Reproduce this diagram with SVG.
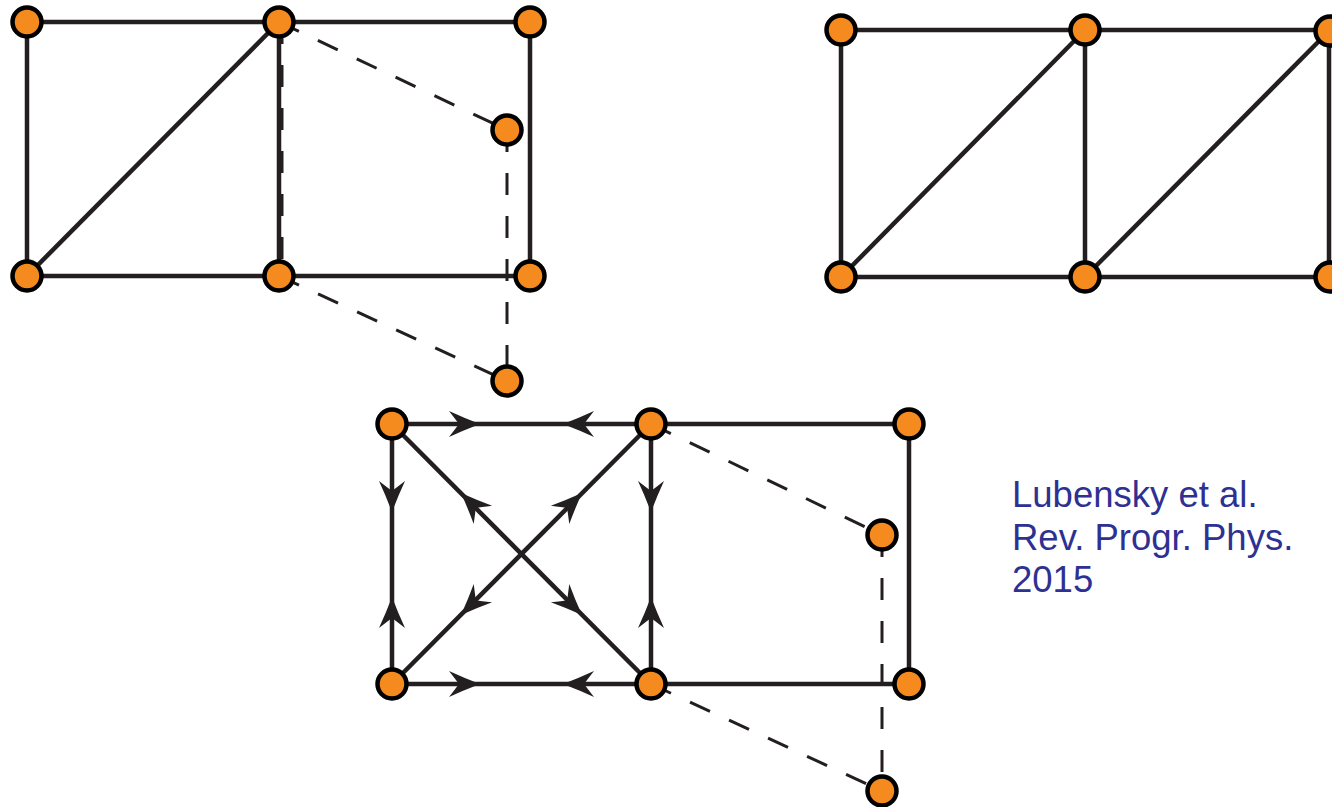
<svg xmlns="http://www.w3.org/2000/svg" xmlns:xlink="http://www.w3.org/1999/xlink" width="1332" height="807" viewBox="0 0 1332 807">
<style>
.e{stroke:#231f20;stroke-width:4.5;fill:none;stroke-linecap:butt}
.d{stroke:#231f20;stroke-width:3;fill:none;stroke-dasharray:22 21}
.n{fill:#f58a1f;stroke:#000;stroke-width:4.5}
.ah{fill:#231f20}
.t{font-family:"Liberation Sans",Arial,sans-serif;font-size:36.5px;fill:#2e3192}
</style>
<defs>
<path id="ah" d="M0,0 Q-17,-6.5 -31,-13 Q-24,-4 -21,0 Q-24,4 -31,13 Q-17,6.5 0,0Z"/>
</defs>
<rect width="1332" height="807" fill="#fff"/>
<g id="connectors">
  <line class="e" x1="27" y1="22" x2="530" y2="22"/>
  <line class="e" x1="27" y1="276" x2="530" y2="276"/>
  <line class="e" x1="27" y1="22" x2="27" y2="276"/>
  <line class="e" x1="279" y1="22" x2="279" y2="276"/>
  <line class="e" x1="530" y1="22" x2="530" y2="276"/>
  <line class="e" x1="27" y1="276" x2="279" y2="22"/>
  <line class="d" x1="282" y1="22" x2="282" y2="276"/>
  <line class="d" x1="279" y1="22" x2="507" y2="130"/>
  <line class="d" x1="279" y1="276" x2="507" y2="381"/>
  <line class="d" x1="507" y1="130" x2="507" y2="381"/>
  <line class="e" x1="841" y1="30" x2="1330" y2="30"/>
  <line class="e" x1="841" y1="277" x2="1330" y2="277"/>
  <line class="e" x1="841" y1="30" x2="841" y2="277"/>
  <line class="e" x1="1085" y1="30" x2="1085" y2="277"/>
  <line class="e" x1="1329" y1="30" x2="1329" y2="277"/>
  <line class="e" x1="841" y1="277" x2="1085" y2="30"/>
  <line class="e" x1="1085" y1="277" x2="1330" y2="30"/>
  <line class="e" x1="392" y1="424" x2="909" y2="424"/>
  <line class="e" x1="392" y1="684" x2="909" y2="684"/>
  <line class="e" x1="392" y1="424" x2="392" y2="684"/>
  <line class="e" x1="651" y1="424" x2="651" y2="684"/>
  <line class="e" x1="909" y1="424" x2="909" y2="684"/>
  <line class="e" x1="392" y1="424" x2="651" y2="684"/>
  <line class="e" x1="651" y1="424" x2="392" y2="684"/>
  <line class="d" x1="651" y1="424" x2="882" y2="535"/>
  <line class="d" x1="651" y1="684" x2="882" y2="791"/>
  <line class="d" x1="882" y1="535" x2="882" y2="791"/>
  <use xlink:href="#ah" class="ah" transform="translate(480,424)"/>
  <use xlink:href="#ah" class="ah" transform="translate(563,424) rotate(180)"/>
  <use xlink:href="#ah" class="ah" transform="translate(480,684)"/>
  <use xlink:href="#ah" class="ah" transform="translate(563,684) rotate(180)"/>
  <use xlink:href="#ah" class="ah" transform="translate(392,512) rotate(90)"/>
  <use xlink:href="#ah" class="ah" transform="translate(392,597) rotate(-90)"/>
  <use xlink:href="#ah" class="ah" transform="translate(651,512) rotate(90)"/>
  <use xlink:href="#ah" class="ah" transform="translate(651,597) rotate(-90)"/>
  <use xlink:href="#ah" class="ah" transform="translate(461,493) rotate(-135)"/>
  <use xlink:href="#ah" class="ah" transform="translate(582,493) rotate(-45)"/>
  <use xlink:href="#ah" class="ah" transform="translate(582,615) rotate(45)"/>
  <use xlink:href="#ah" class="ah" transform="translate(461,615) rotate(135)"/>
</g>
<g id="n1"><circle class="n" cx="27" cy="22" r="14.5"/></g>
<g id="n2"><circle class="n" cx="279" cy="22" r="14.5"/></g>
<g id="n3"><circle class="n" cx="530" cy="22" r="14.5"/></g>
<g id="n4"><circle class="n" cx="27" cy="276" r="14.5"/></g>
<g id="n5"><circle class="n" cx="279" cy="276" r="14.5"/></g>
<g id="n6"><circle class="n" cx="530" cy="276" r="14.5"/></g>
<g id="n7"><circle class="n" cx="507" cy="130" r="14.5"/></g>
<g id="n8"><circle class="n" cx="507" cy="381" r="14.5"/></g>
<g id="n9"><circle class="n" cx="841" cy="30" r="14.5"/></g>
<g id="n10"><circle class="n" cx="1085" cy="30" r="14.5"/></g>
<g id="n11"><circle class="n" cx="1330" cy="31" r="14.5"/></g>
<g id="n12"><circle class="n" cx="841" cy="277" r="14.5"/></g>
<g id="n13"><circle class="n" cx="1085" cy="277" r="14.5"/></g>
<g id="n14"><circle class="n" cx="1330" cy="277" r="14.5"/></g>
<g id="n15"><circle class="n" cx="392" cy="424" r="14.5"/></g>
<g id="n16"><circle class="n" cx="651" cy="424" r="14.5"/></g>
<g id="n17"><circle class="n" cx="909" cy="424" r="14.5"/></g>
<g id="n18"><circle class="n" cx="392" cy="684" r="14.5"/></g>
<g id="n19"><circle class="n" cx="651" cy="684" r="14.5"/></g>
<g id="n20"><circle class="n" cx="909" cy="684" r="14.5"/></g>
<g id="n21"><circle class="n" cx="882" cy="535" r="14.5"/></g>
<g id="n22"><circle class="n" cx="882" cy="791" r="14.5"/></g>
<g id="citation">
  <text class="t" x="1012" y="507">Lubensky et al.</text>
  <text class="t" x="1012" y="550">Rev. Progr. Phys.</text>
  <text class="t" x="1012" y="592">2015</text>
</g>
</svg>
